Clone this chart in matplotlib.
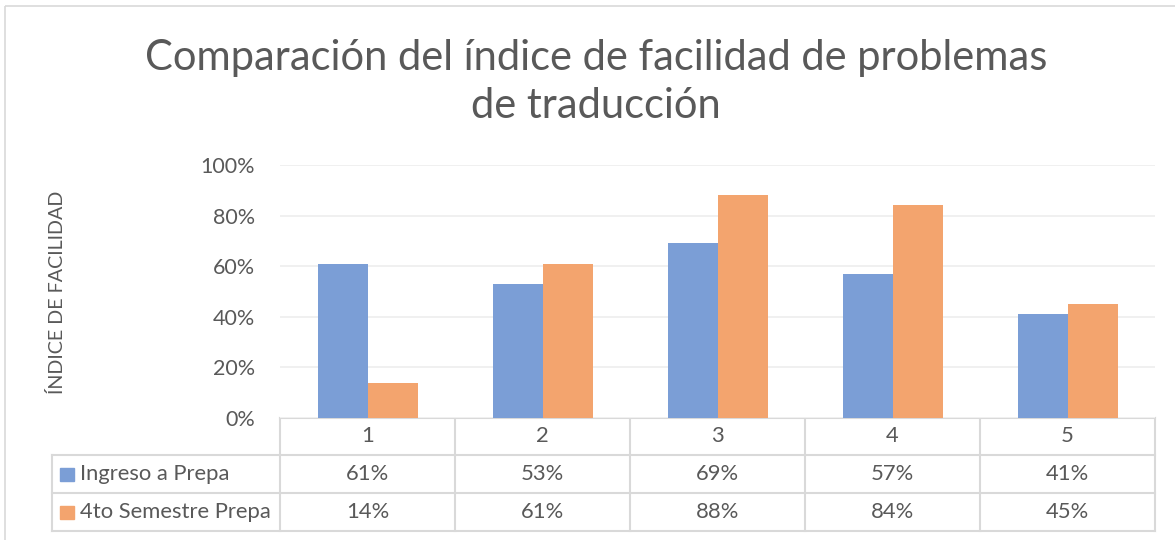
import matplotlib
matplotlib.use("Agg")
import matplotlib.pyplot as plt
from matplotlib.patches import Rectangle

categories = ["1", "2", "3", "4", "5"]
series_names = ["Ingreso a Prepa", "4to Semestre Prepa"]
ingreso = [0.61, 0.53, 0.69, 0.57, 0.41]
cuarto = [0.14, 0.61, 0.88, 0.84, 0.45]
yticks = [0, 0.2, 0.4, 0.6, 0.8, 1.0]
title_lines = ["Comparación del índice de facilidad de problemas", "de traducción"]
ylabel = "ÍNDICE DE FACILIDAD"

colors = ["#7B9ED6", "#F3A46E"]
text_color = "#595959"
line_color = "#D9D9D9"
FONT = ["Lato", "DejaVu Sans"]
plt.rcParams["font.family"] = FONT

W, H = 1175, 540
fig = plt.figure(figsize=(W / 100, H / 100), dpi=100)

def fx(px):
    return px / W

def fy(py):
    return 1 - py / H

# overlay axes in pixel coordinates
ov = fig.add_axes([0, 0, 1, 1])
ov.set_xlim(0, W)
ov.set_ylim(H, 0)
ov.axis("off")

# outer chart border
ov.add_patch(Rectangle((5, 6), W + 10, H + 10, fill=False, edgecolor="#D9D9D9", lw=1.2))

# plot axes
x0, x1, ytop, ybot = 280, 1155, 165, 418
ax = fig.add_axes([fx(x0), fy(ybot), fx(x1) - fx(x0), fy(ytop) - fy(ybot)])
n = len(categories)
w = 50 / 175
xs = list(range(n))
ax.bar([x - w / 2 for x in xs], ingreso, width=w, color=colors[0], zorder=3)
ax.bar([x + w / 2 for x in xs], cuarto, width=w, color=colors[1], zorder=3)
ax.set_xlim(-0.5, n - 0.5)
ax.set_ylim(0, 1.0)
ax.set_yticks(yticks)
ax.set_yticklabels([f"{int(round(t * 100))}%" for t in yticks], fontsize=15.5, color=text_color)
ax.tick_params(axis="y", length=0, pad=18)
ax.set_xticks([])
ax.grid(axis="y", color="#EFEFEF", lw=1.3, zorder=0)
for s in ax.spines.values():
    s.set_visible(False)

fig.text(fx(57), fy(292), ylabel, rotation=90, ha="center", va="center",
         fontsize=14.2, color=text_color)

# title
fig.text(fx(596), fy(58), title_lines[0], ha="center", va="center", fontsize=30, color=text_color)
fig.text(fx(596), fy(106), title_lines[1], ha="center", va="center", fontsize=30, color=text_color)

# data table
rows_y = [418, 455, 493, 531]
left_x = 52
col_w = (x1 - x0) / n
col_edges = [x0 + i * col_w for i in range(n + 1)]
lw = 1.5
ov.plot([x0, x1], [rows_y[0], rows_y[0]], color=line_color, lw=lw)
for yy in rows_y[1:]:
    ov.plot([left_x, x1], [yy, yy], color=line_color, lw=lw)
for xx in col_edges:
    ov.plot([xx, xx], [rows_y[0], rows_y[-1]], color=line_color, lw=lw)
ov.plot([left_x, left_x], [rows_y[1], rows_y[-1]], color=line_color, lw=lw)

fs = 15.8
fs_num = 15.8
for i, c in enumerate(categories):
    ov.text(x0 + (i + 0.5) * col_w, (rows_y[0] + rows_y[1]) / 2, c, ha="center", va="center",
            fontsize=fs_num, color=text_color)
for r, (name, vals) in enumerate(zip(series_names, [ingreso, cuarto])):
    yc = (rows_y[r + 1] + rows_y[r + 2]) / 2
    ov.add_patch(Rectangle((60, yc - 6.5), 13.5, 13.5, color=colors[r]))
    ov.text(80, yc, name, ha="left", va="center", fontsize=fs, color=text_color)
    for i, v in enumerate(vals):
        ov.text(x0 + (i + 0.5) * col_w, yc, f"{int(round(v * 100))}%", ha="center", va="center",
                fontsize=fs_num, color=text_color)

fig.savefig("out.png", dpi=100, facecolor="white")
